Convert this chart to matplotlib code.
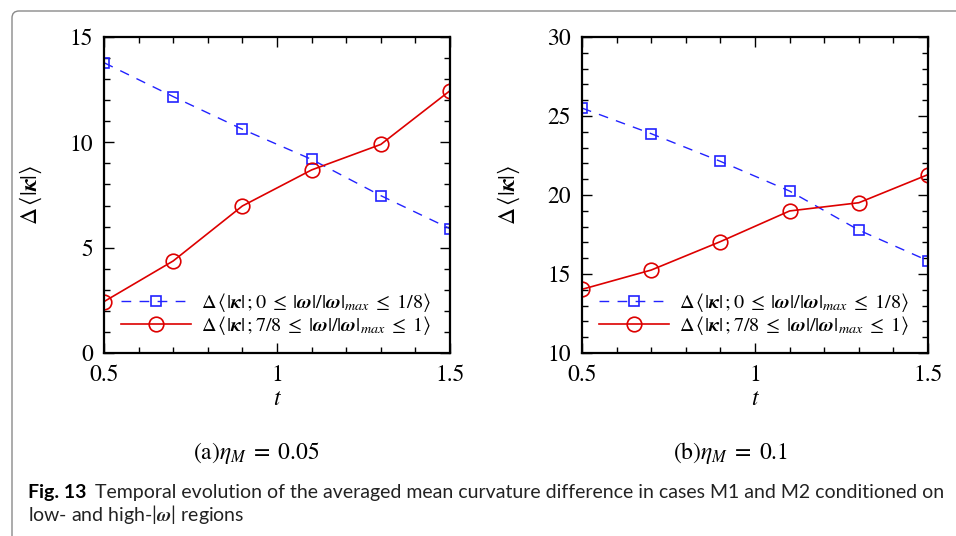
import matplotlib
matplotlib.use("Agg")
import matplotlib.pyplot as plt
from matplotlib.patches import FancyBboxPatch
from matplotlib.ticker import MultipleLocator

t = [0.5, 0.7, 0.9, 1.1, 1.3, 1.5]
low_a = [13.78, 12.17, 10.62, 9.19, 7.47, 5.90]
high_a = [2.44, 4.37, 6.98, 8.69, 9.90, 12.45]
low_b = [25.50, 23.88, 22.13, 20.25, 17.78, 15.84]
high_b = [14.03, 15.25, 17.05, 18.99, 19.51, 21.29]

label_low = (r'$\Delta\,\langle|\mathbfit{\kappa}|\,;0\;\leq\;|\mathbfit{\omega}|/|\mathbfit{\omega}|_{max}'
             r'\;\leq\;1/8\rangle$')
label_high = (r'$\Delta\,\langle|\mathbfit{\kappa}|\,;7/8\;\leq\;|\mathbfit{\omega}|/|\mathbfit{\omega}|_{max}'
              r'\;\leq\;1\rangle$')
ylabel = r'$\Delta\,\langle|\mathbfit{\kappa}|\rangle$'
subcaps = [r'$\mathrm{(a)}\eta_M\;=\;0.05$', r'$\mathrm{(b)}\eta_M\;=\;0.1$']

plt.rcParams['mathtext.fontset'] = 'stix'
plt.rcParams['font.family'] = ['STIXGeneral', 'DejaVu Serif']

fig = plt.figure(figsize=(9.56, 5.36), dpi=100)

# outer frame
frame = FancyBboxPatch((0.12, -1.0), 12.0, 5.25 + 1.0,
                       boxstyle="round,pad=0,rounding_size=0.07",
                       transform=fig.dpi_scale_trans, fill=False,
                       edgecolor='#8a8a8a', linewidth=1.0, clip_on=False)
fig.patches.append(frame)

def make_ax(rect, low, high, ylim, yticks):
    ax = fig.add_axes(rect)
    ax.plot(t, low, color='#2222ff', linestyle=(0, (7, 6)), linewidth=1.0,
            marker='s', markersize=7.5, markerfacecolor='none',
            markeredgecolor='#2222ff', markeredgewidth=1.2, label=label_low)
    ax.plot(t, high, color='#dd0000', linestyle='-', linewidth=1.2,
            marker='o', markersize=10.5, markerfacecolor='none',
            markeredgecolor='#dd0000', markeredgewidth=1.2, label=label_high)
    ax.set_xlim(0.5, 1.5)
    ax.set_ylim(*ylim)
    ax.set_xticks([0.5, 1, 1.5])
    ax.set_xticklabels(['0.5', '1', '1.5'])
    ax.set_yticks(yticks)
    ax.xaxis.set_minor_locator(MultipleLocator(0.1))
    ax.yaxis.set_minor_locator(MultipleLocator(1))
    ax.tick_params(which='both', direction='in', top=True, right=True,
                   labelsize=17, width=1.0)
    ax.tick_params(which='major', length=7)
    ax.tick_params(which='minor', length=4)
    ax.tick_params(axis='x', pad=8)
    ax.tick_params(axis='y', pad=8)
    for s in ax.spines.values():
        s.set_linewidth(1.6)
    ax.set_xlabel(r'$t$', fontsize=17, labelpad=2)
    ax.set_ylabel(ylabel, fontsize=17, labelpad=18)
    ax.legend(loc='lower right', bbox_to_anchor=(0.968, 0.025), frameon=False,
              fontsize=14.5, handlelength=3.5, handletextpad=0.5,
              labelspacing=0.0, borderaxespad=0.0)
    return ax

ax1 = make_ax([0.1088, 0.3414, 0.3619, 0.5896], low_a, high_a, (0, 15), [0, 5, 10, 15])
ax2 = make_ax([0.6088, 0.3414, 0.3619, 0.5896], low_b, high_b, (10, 30), [10, 15, 20, 25, 30])

fig.text(256 / 956, 1 - 453 / 536, subcaps[0], fontsize=17, ha='center', va='center')
fig.text(731 / 956, 1 - 453 / 536, subcaps[1], fontsize=17, ha='center', va='center')

cap_fam = ['Lato', 'DejaVu Sans']
cap_size = 14
t1 = fig.text(28 / 956, 1 - 498 / 536, 'Fig. 13', fontsize=cap_size, fontweight='bold',
              family=cap_fam, ha='left', va='baseline')
fig.canvas.draw()
bb = t1.get_window_extent()
fig.text((bb.x1 + 9) / 956, 1 - 498 / 536,
         'Temporal evolution of the averaged mean curvature difference in cases M1 and M2 conditioned on',
         fontsize=cap_size, family=cap_fam, ha='left', va='baseline', color='#222222')
fig.text(28 / 956, 1 - 521 / 536, r'low- and high-|$\mathbfit{\omega}$| regions',
         fontsize=cap_size, family=cap_fam, ha='left', va='baseline', color='#222222')

fig.savefig('out.png', dpi=100)
